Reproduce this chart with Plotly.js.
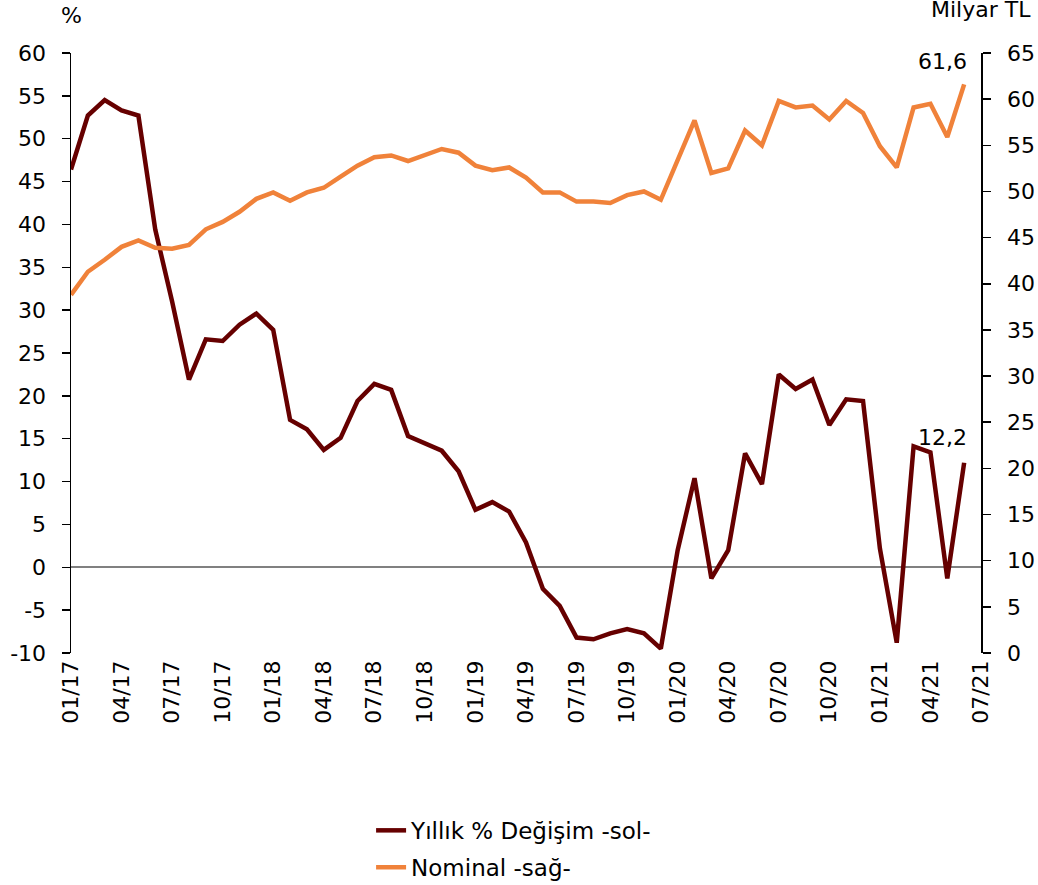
<!DOCTYPE html>
<html>
<head>
<meta charset="utf-8">
<script src="https://cdn.plot.ly/plotly-3.0.1.min.js"></script>
<style>
html,body{margin:0;padding:0;background:#fff;}
#chart{width:1038px;height:885px;}
</style>
</head>
<body>
<div id="chart"></div>
<script>
// Month categories (01/17 .. 07/21)
const months = [
 "01/17","02/17","03/17","04/17","05/17","06/17","07/17","08/17","09/17","10/17","11/17","12/17",
 "01/18","02/18","03/18","04/18","05/18","06/18","07/18","08/18","09/18","10/18","11/18","12/18",
 "01/19","02/19","03/19","04/19","05/19","06/19","07/19","08/19","09/19","10/19","11/19","12/19",
 "01/20","02/20","03/20","04/20","05/20","06/20","07/20","08/20","09/20","10/20","11/20","12/20",
 "01/21","02/21","03/21","04/21","05/21","06/21","07/21"
];
const tickLabels = ["01/17","04/17","07/17","10/17","01/18","04/18","07/18","10/18","01/19","04/19","07/19","10/19","01/20","04/20","07/20","10/20","01/21","04/21","07/21"];
const leftTickVals = [-10, -5, 0, 5, 10, 15, 20, 25, 30, 35, 40, 45, 50, 55, 60];
const leftTickText = ["-10", "-5", "0", "5", "10", "15", "20", "25", "30", "35", "40", "45", "50", "55", "60"];

// Yıllık % Değişim (left axis)
const annualChange = [
 46.4, 52.7, 54.5, 53.3, 52.7, 39.4, 31.0, 21.9, 26.6, 26.4, 28.3, 29.6,
 27.7, 17.2, 16.1, 13.7, 15.1, 19.4, 21.4, 20.7, 15.3, 14.4, 13.6, 11.2,
 6.7, 7.6, 6.5, 2.9, -2.5, -4.5, -8.2, -8.4, -7.7, -7.2, -7.7, -9.5,
 2.0, 10.4, -1.3, 2.0, 13.3, 9.7, 22.5, 20.8, 21.9, 16.6, 19.6, 19.4,
 2.2, -8.8, 14.1, 13.4, -1.3, 12.2
];

// Nominal, Milyar TL (right axis)
const nominal = [
 38.8, 41.3, 42.6, 44.0, 44.7, 43.9, 43.8, 44.2, 45.9, 46.7, 47.8, 49.2,
 49.9, 49.0, 49.9, 50.4, 51.6, 52.8, 53.7, 53.9, 53.3, 53.9, 54.6, 54.2,
 52.8, 52.3, 52.6, 51.5, 49.9, 49.9, 48.9, 48.9, 48.75, 49.6, 50.0, 49.1,
 53.3, 57.7, 52.0, 52.5, 56.6, 55.0, 59.8, 59.1, 59.3, 57.8, 59.8, 58.5,
 54.9, 52.6, 59.1, 59.5, 55.9, 61.6
];

const seriesNames = ["Yıllık % Değişim -sol-", "Nominal -sağ-"];
const lastLabels = ["12,2", "61,6"];

const FONT = "DejaVu Sans";
const n = annualChange.length;

const traces = [
  {
    x: months.slice(0, n), y: annualChange, name: seriesNames[0], legendgroup: "a",
    type: "scatter", mode: "lines", yaxis: "y",
    line: {color: "#660000", width: 4.5}
  },
  {
    x: months.slice(0, nominal.length), y: nominal, name: seriesNames[1], legendgroup: "b",
    type: "scatter", mode: "lines", yaxis: "y2",
    line: {color: "#F0823A", width: 4.5}
  }
];

const layout = {
  width: 1038, height: 885,
  paper_bgcolor: "#fff", plot_bgcolor: "#fff",
  margin: {l: 71, r: 57, t: 53, b: 232, autoexpand: false},
  font: {family: FONT, size: 22, color: "#000"},
  showlegend: true,
  legend: {
    orientation: "v", xref: "container", yref: "container",
    x: 0.3575, xanchor: "left", y: 0.086, yanchor: "top",
    traceorder: "grouped", tracegroupgap: 4,
    font: {family: FONT, size: 23, color: "#000"},
    bgcolor: "rgba(0,0,0,0)", borderwidth: 0
  },
  xaxis: {
    type: "category", automargin: false,
    categoryorder: "array", categoryarray: months,
    range: [0, months.length - 1],
    tickmode: "array", tickvals: tickLabels, ticktext: tickLabels,
    tickangle: -90, ticks: "", showline: false, showgrid: false, zeroline: false,
    ticklabelstandoff: 2,
    tickfont: {family: FONT, size: 22, color: "#000"}
  },
  yaxis: {
    range: [-10, 60], automargin: false,
    tickmode: "array", tickvals: leftTickVals, ticktext: leftTickText,
    ticks: "outside", ticklen: 8, tickwidth: 1.5, tickcolor: "#000",
    ticklabelstandoff: 11,
    showline: true, linecolor: "#000", linewidth: 1.5,
    showgrid: false, zeroline: true, zerolinecolor: "#808080", zerolinewidth: 1.8,
    tickfont: {family: FONT, size: 22, color: "#000"}
  },
  yaxis2: {
    overlaying: "y", side: "right", automargin: false,
    range: [0, 65], dtick: 5, tick0: 0,
    ticks: "outside", ticklen: 8, tickwidth: 1.5, tickcolor: "#000",
    ticklabelstandoff: 12,
    showline: true, linecolor: "#000", linewidth: 1.5,
    showgrid: false, zeroline: false,
    tickfont: {family: FONT, size: 22, color: "#000"}
  },
  annotations: [
    {text: "%", xref: "paper", yref: "paper", x: 0, y: 1.062, xanchor: "center", yanchor: "middle",
     showarrow: false, font: {family: FONT, size: 22, color: "#000"}},
    {text: "Milyar TL", xref: "paper", yref: "paper", x: 1.0, y: 1.073, xanchor: "center", yanchor: "middle",
     showarrow: false, font: {family: FONT, size: 22, color: "#000"}},
    {text: lastLabels[1], xref: "x", yref: "y2", x: months[nominal.length - 1], y: nominal[nominal.length - 1],
     xanchor: "right", yanchor: "middle", xshift: 5, yshift: 23, showarrow: false,
     font: {family: FONT, size: 22, color: "#000"}},
    {text: lastLabels[0], xref: "x", yref: "y", x: months[n - 1], y: annualChange[n - 1],
     xanchor: "right", yanchor: "middle", xshift: 5, yshift: 25, showarrow: false,
     font: {family: FONT, size: 22, color: "#000"}}
  ]
};

Plotly.newPlot("chart", traces, layout, {staticPlot: true, displayModeBar: false});
</script>
</body>
</html>
